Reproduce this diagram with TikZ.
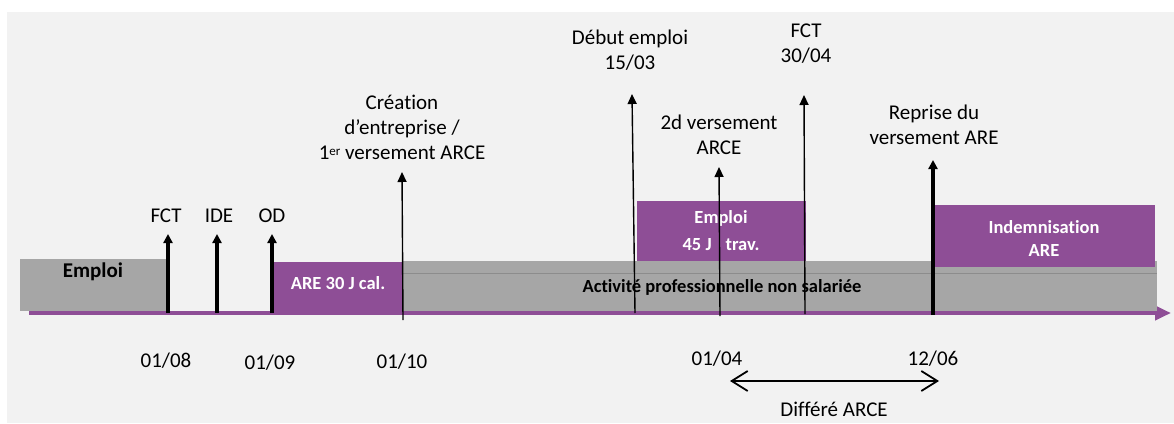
\documentclass[tikz,border=0pt]{standalone}
\usepackage{fontspec}
\setmainfont{Carlito}[Ligatures=NoCommon]
\usetikzlibrary{arrows.meta}
\definecolor{bgc}{HTML}{F2F2F2}
\definecolor{pur}{HTML}{8E4E96}
\definecolor{grc}{HTML}{A6A6A6}
\definecolor{grl}{HTML}{8C8C8C}
\begin{document}
\begin{tikzpicture}[x=1pt,y=-1pt,
  txt/.style={font=\fontsize{21}{25}\selectfont, align=center, inner sep=0pt, text=black},
  btxt/.style={font=\bfseries\fontsize{18.5}{24}\selectfont, align=center, inner sep=0pt, text=white},
  box/.style={draw=none, inner sep=0pt, anchor=north west},
  thickarrow/.style={line width=3.2pt, -{Triangle[length=9pt,width=9pt]}},
  thinarrow/.style={line width=1.4pt, -{Triangle[length=10pt,width=9pt]}},
  dblarrow/.style={line width=1.8pt, {Straight Barb[length=16pt,width=20pt]}-{Straight Barb[length=16pt,width=20pt]}}
]
\useasboundingbox (0,0) rectangle (1174,423);
\fill[white] (0,0) rectangle (1174,423);
\fill[bgc] (7,12) rectangle (1174,423);

% timeline
\coordinate (tl0) at (29,313);
\coordinate (tl1) at (1171,313);
\draw[pur, line width=4pt, -{Triangle[length=16pt,width=14pt]}] (tl0) -- (tl1);

% boxes
\node[box, fill=grc, minimum width=147, minimum height=52] (emp1) at (20,259) {};
\node[box, fill=pur, minimum width=130, minimum height=50] (are30) at (273,262) {};
\node[box, fill=grc, minimum width=754, minimum height=50] (act) at (403,261) {};
\draw[grl, line width=0.8pt] (act.north west) ++(0,12) coordinate (al0) -- (act.north east |- al0);
\node[box, fill=pur, minimum width=169, minimum height=60] (emp2) at (637,201) {};
\node[box, fill=pur, minimum width=221, minimum height=62] (ind) at (934,205) {};

% box labels
\node[txt, font=\bfseries\fontsize{21}{24}\selectfont] (lemp1) at (93,272) {Emploi};
\node[btxt] (lare) at (338,283) {ARE 30 J cal.};
\node[txt, font=\bfseries\fontsize{18.5}{24}\selectfont] (lact) at (722,287) {Activité professionnelle non salariée};
\node[btxt] (lemp2a) at (721,218) {Emploi};
\node[btxt] (lemp2b) at (721,245) {45 J\hspace{14pt}trav.};
\node[btxt] (linda) at (1044,227) {Indemnisation};
\node[btxt] (lindb) at (1044,250) {ARE};

% thick arrows
\coordinate (fctb) at (168,313); \coordinate (fctt) at (168,234);
\coordinate (ideb) at (217,313); \coordinate (idet) at (217,234);
\coordinate (odb) at (272,313);  \coordinate (odt) at (272,234);
\coordinate (repb) at (933,315); \coordinate (rept) at (933,160);
\draw[thickarrow] (fctb) -- (fctt);
\draw[thickarrow] (ideb) -- (idet);
\draw[thickarrow] (odb) -- (odt);
\draw[thickarrow] (repb) -- (rept);

% thin arrows
\coordinate (creb) at (403,320); \coordinate (cret) at (402,172);
\coordinate (debb) at (635,313); \coordinate (debt) at (632,94);
\coordinate (versb) at (720,316); \coordinate (verst) at (719,167);
\coordinate (fct2b) at (805,314); \coordinate (fct2t) at (804,95);
\draw[thinarrow] (creb) -- (cret);
\draw[thinarrow] (debb) -- (debt);
\draw[thinarrow] (versb) -- (verst);
\draw[thinarrow] (fct2b) -- (fct2t);

% event labels
\node[txt] (lfct) at (166,216) {FCT};
\node[txt] (lide) at (219,216) {IDE};
\node[txt] (lod) at (272,216) {OD};
\node[txt] (lcre) at (402,127) {Création\\d’entreprise /\\1{\fontsize{13}{13}\selectfont\raisebox{4pt}{er}} versement ARCE};
\node[txt] (ldeb) at (630,50) {Début emploi\\15/03};
\node[txt] (lfct2) at (806,44) {FCT\\30/04};
\node[txt] (lvers) at (719,135) {2d versement\\ARCE};
\node[txt] (lrep) at (934,125) {Reprise du\\versement ARE};

% dates
\node[txt] (d1) at (166,361) {01/08};
\node[txt] (d2) at (270,363) {01/09};
\node[txt] (d3) at (402,362) {01/10};
\node[txt] (d4) at (717,359) {01/04};
\node[txt] (d5) at (933,359) {12/06};

% differe
\coordinate (dfa) at (730,381); \coordinate (dfb) at (939,381);
\draw[dblarrow] (dfa) -- (dfb);
\node[txt] (ldif) at (834,409) {Différé ARCE};
\end{tikzpicture}
\end{document}
